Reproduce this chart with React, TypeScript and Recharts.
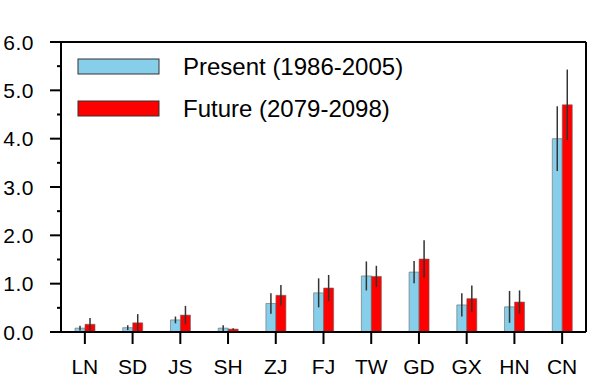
import React from "react";
import { Bar, BarChart, ErrorBar, XAxis, YAxis } from "recharts";

const regions = ["LN", "SD", "JS", "SH", "ZJ", "FJ", "TW", "GD", "GX", "HN", "CN"];
const present = [0.08, 0.09, 0.25, 0.08, 0.59, 0.81, 1.16, 1.24, 0.56, 0.52, 4.0];
const future = [0.16, 0.19, 0.35, 0.06, 0.76, 0.91, 1.15, 1.51, 0.69, 0.62, 4.7];
const presentErr = [0.05, 0.05, 0.07, 0.06, 0.21, 0.3, 0.3, 0.23, 0.24, 0.33, 0.67];
const futureErr = [0.13, 0.18, 0.19, 0.02, 0.21, 0.27, 0.22, 0.39, 0.27, 0.24, 0.73];
const yTicks = [0, 0.5, 1, 1.5, 2, 2.5, 3, 3.5, 4, 4.5, 5, 5.5, 6];
const legendLabels = ["Present (1986-2005)", "Future (2079-2098)"];

const FONT = "'Liberation Sans', Arial, Helvetica, sans-serif";
const BLUE = "#87CEEB";
const RED = "#FF0000";
const Y_TICK_SIZE = 11;
const Y_TICK_MARGIN = 16;

const data = regions.map((name, i) => ({
  name,
  present: present[i],
  future: future[i],
  presentErr: presentErr[i],
  futureErr: futureErr[i],
}));

function YTick(props: any) {
  const { x, y, payload } = props;
  const major = Number.isInteger(payload.value);
  const axisX = x + Y_TICK_MARGIN + Y_TICK_SIZE;
  return (
    <g>
      <line
        x1={axisX - (major ? Y_TICK_SIZE : 4)}
        x2={axisX}
        y1={y}
        y2={y}
        stroke="#000"
        strokeWidth={2}
      />
      {major && (
        <text
          x={x}
          y={y}
          dy="0.36em"
          textAnchor="end"
          fontSize={21}
          letterSpacing={0.5}
          fontFamily={FONT}
          fill="#000"
        >
          {payload.value.toFixed(1)}
        </text>
      )}
    </g>
  );
}

function ChartLegend() {
  const colors = [BLUE, RED];
  const rows = [59, 101];
  return (
    <svg
      width={420}
      height={130}
      style={{ position: "absolute", left: 0, top: 0, pointerEvents: "none" }}
    >
      {legendLabels.map((label, i) => (
        <g key={label}>
          <rect x={78} y={rows[i]} width={81} height={15} fill={colors[i]} stroke="#333" strokeWidth={1} />
          <text
            x={183}
            y={rows[i] + 7.5}
            dy="0.36em"
            fontSize={24}
            fontFamily={FONT}
            fill="#000"
          >
            {label}
          </text>
        </g>
      ))}
    </svg>
  );
}

export default function App() {
  return (
    <div style={{ position: "absolute", left: 0, top: 0, width: 600, height: 379, background: "#fff" }}>
      <BarChart
        width={600}
        height={379}
        data={data}
        margin={{ top: 41, right: 13, bottom: 0, left: 0 }}
        barGap={0}
        barSize={10}
      >
        <XAxis
          dataKey="name"
          height={47}
          tickSize={12}
          tickMargin={15}
          axisLine={{ stroke: "#000", strokeWidth: 2 }}
          tickLine={{ stroke: "#000", strokeWidth: 2 }}
          tick={{ fontSize: 21, fill: "#000", fontFamily: FONT }}
          interval={0}
        />
        <XAxis
          xAxisId="top"
          dataKey="name"
          orientation="top"
          height={1}
          tick={false}
          tickLine={false}
          axisLine={{ stroke: "#000", strokeWidth: 2 }}
        />
        <YAxis
          domain={[0, 6]}
          ticks={yTicks}
          interval={0}
          width={61}
          tickSize={Y_TICK_SIZE}
          tickMargin={Y_TICK_MARGIN}
          tickLine={false}
          axisLine={{ stroke: "#000", strokeWidth: 2 }}
          tick={<YTick />}
        />
        <YAxis
          yAxisId="right"
          orientation="right"
          domain={[0, 6]}
          width={1}
          tick={false}
          tickLine={false}
          axisLine={{ stroke: "#000", strokeWidth: 2 }}
        />
        <Bar dataKey="present" fill={BLUE} stroke="#666" strokeWidth={0.6} isAnimationActive={false}>
          <ErrorBar dataKey="presentErr" width={0} stroke="#333" strokeWidth={1.5} direction="y" />
        </Bar>
        <Bar dataKey="future" fill={RED} stroke="#666" strokeWidth={0.6} isAnimationActive={false}>
          <ErrorBar dataKey="futureErr" width={0} stroke="#333" strokeWidth={1.5} direction="y" />
        </Bar>
      </BarChart>
      <ChartLegend />
    </div>
  );
}
